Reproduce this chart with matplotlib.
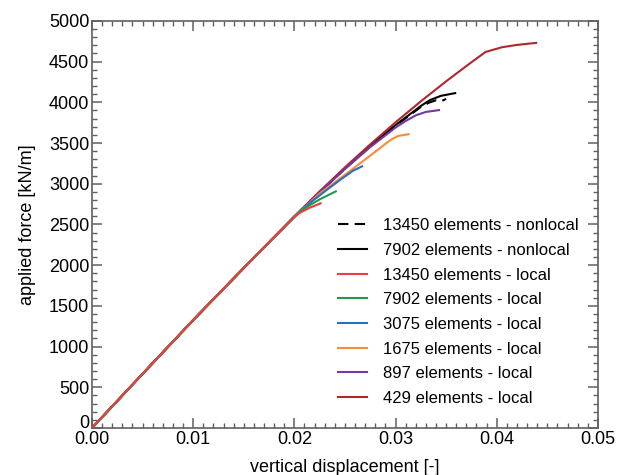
import matplotlib
matplotlib.use('Agg')
import matplotlib.pyplot as plt
from matplotlib.ticker import MultipleLocator, FormatStrFormatter

plt.rcParams['font.family'] = ['Liberation Sans', 'DejaVu Sans']

# load-displacement curves (displacement [-], force [kN/m])
x_nl_13450 = [0.0, 0.005, 0.01, 0.015, 0.02, 0.0225, 0.025, 0.0275, 0.03, 0.0325, 0.0333, 0.034, 0.0345, 0.0350]
y_nl_13450 = [0, 665, 1325, 1965, 2595, 2895, 3185, 3458, 3712, 3942, 3995, 4025, 4012, 4042]

x_nl_7902 = [0.0, 0.005, 0.01, 0.015, 0.02, 0.0225, 0.025, 0.0275, 0.03, 0.0325, 0.0334, 0.0345, 0.0359]
y_nl_7902 = [0, 665, 1325, 1965, 2595, 2898, 3190, 3465, 3720, 3955, 4027, 4080, 4113]

x_l_13450 = [0.0, 0.005, 0.01, 0.015, 0.02, 0.0205, 0.0215, 0.0226]
y_l_13450 = [0, 665, 1325, 1965, 2592, 2640, 2705, 2759]

x_l_7902 = [0.0, 0.005, 0.01, 0.015, 0.02, 0.0208, 0.0225, 0.0241]
y_l_7902 = [0, 665, 1325, 1965, 2593, 2682, 2808, 2906]

x_l_3075 = [0.0, 0.005, 0.01, 0.015, 0.02, 0.0215, 0.023, 0.0245, 0.0258, 0.0267]
y_l_3075 = [0, 665, 1325, 1965, 2594, 2760, 2905, 3045, 3160, 3214]

x_l_1675 = [0.0, 0.005, 0.01, 0.015, 0.02, 0.0225, 0.025, 0.0275, 0.029, 0.0296, 0.0303, 0.0313]
y_l_1675 = [0, 665, 1325, 1965, 2595, 2880, 3110, 3345, 3490, 3545, 3588, 3608]

x_l_897 = [0.0, 0.005, 0.01, 0.015, 0.02, 0.0225, 0.025, 0.0275, 0.03, 0.031, 0.032, 0.033, 0.0343]
y_l_897 = [0, 665, 1325, 1965, 2595, 2895, 3180, 3450, 3690, 3770, 3840, 3882, 3904]

x_l_429 = [0.0, 0.005, 0.01, 0.015, 0.02, 0.0225, 0.025, 0.0275, 0.03, 0.0325, 0.035, 0.0375,
           0.0389, 0.0405, 0.042, 0.0439]
y_l_429 = [0, 665, 1325, 1968, 2600, 2906, 3201, 3483, 3754, 4012, 4258, 4492,
           4618, 4676, 4705, 4730]

fig = plt.figure(figsize=(6.28, 4.75), dpi=100)
ax = fig.add_axes([0.1465, 0.099, 0.8055, 0.857])

lw = 1.5
h_nl1, = ax.plot(x_nl_13450, y_nl_13450, color='black', ls=(0, (5, 3)), lw=lw, zorder=2,
                 label='13450 elements - nonlocal')
h_nl2, = ax.plot(x_nl_7902, y_nl_7902, color='black', lw=lw, zorder=2,
                 label='7902 elements - nonlocal')
h1, = ax.plot(x_l_13450, y_l_13450, color='#e8403c', lw=lw, zorder=9, label='13450 elements - local')
h2, = ax.plot(x_l_7902, y_l_7902, color='#1f9a4f', lw=lw, zorder=8, label='7902 elements - local')
h3, = ax.plot(x_l_3075, y_l_3075, color='#2a6fbd', lw=lw, zorder=7, label='3075 elements - local')
h4, = ax.plot(x_l_1675, y_l_1675, color='#f88d35', lw=lw, zorder=6, label='1675 elements - local')
h5, = ax.plot(x_l_897, y_l_897, color='#7438a0', lw=lw, zorder=5, label='897 elements - local')
h6, = ax.plot(x_l_429, y_l_429, color='#b0262b', lw=lw, zorder=4, label='429 elements - local')

ax.set_xlim(0, 0.05)
ax.set_ylim(0, 5000)
ax.xaxis.set_major_locator(MultipleLocator(0.01))
ax.xaxis.set_minor_locator(MultipleLocator(0.001))
ax.xaxis.set_major_formatter(FormatStrFormatter('%.2f'))
ax.yaxis.set_major_locator(MultipleLocator(500))
ax.yaxis.set_minor_locator(MultipleLocator(100))

spine_col = '#606060'
for s in ax.spines.values():
    s.set_color(spine_col)
    s.set_linewidth(1.2)
ax.tick_params(which='both', direction='in', top=True, right=True, colors=spine_col,
               labelcolor='black', labelsize=13, pad=2)
ax.tick_params(which='major', length=7, width=1.1)
ax.tick_params(which='minor', length=3.5, width=1.0)

ax.set_xlabel('vertical displacement [-]', fontsize=13, labelpad=8)
ax.set_ylabel('applied force [kN/m]', fontsize=13, labelpad=9)

ax.legend(handles=[h_nl1, h_nl2, h1, h2, h3, h4, h5, h6], loc='upper left',
          bbox_to_anchor=(0.486, 0.515), frameon=False, fontsize=12,
          handlelength=1.75, handletextpad=0.95, labelspacing=0.58,
          borderpad=0, borderaxespad=0)

# sit the "0" on the y axis on its tick so it clears the "0.00"
fig.canvas.draw()
for tick in ax.yaxis.get_major_ticks():
    if abs(tick.get_loc()) < 1e-9:
        tick.label1.set_verticalalignment('baseline')

fig.savefig('out.png', dpi=100)
